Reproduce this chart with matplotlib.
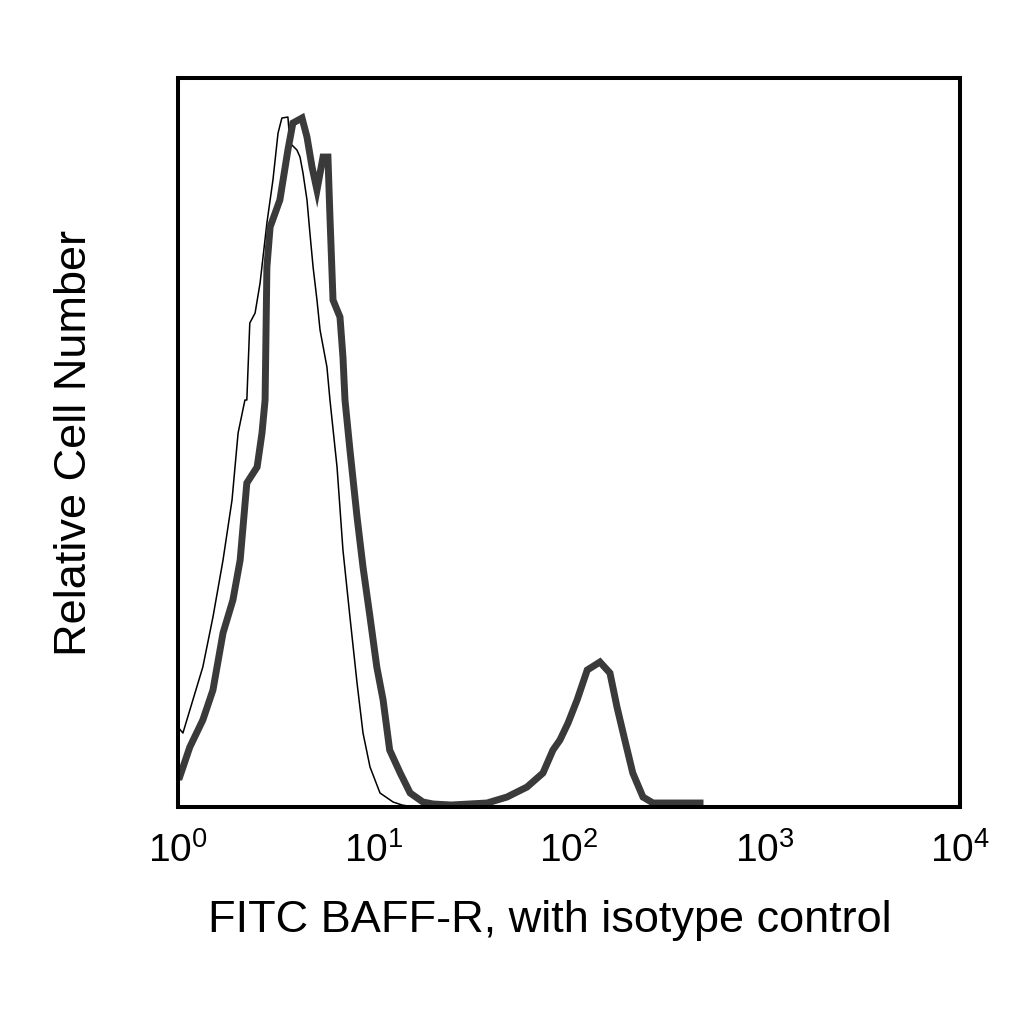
import matplotlib
matplotlib.use("Agg")
import matplotlib.pyplot as plt

plt.rcParams['font.family'] = ['Liberation Sans', 'DejaVu Sans']

# isotype control (thin line)
iso_x = [1.00, 1.06, 1.34, 1.51, 1.70, 1.89, 2.03, 2.20, 2.25, 2.33, 2.48, 2.63, 2.85,
         3.06, 3.25, 3.40, 3.65, 3.74, 4.06, 4.21, 4.36, 4.57, 4.73, 4.91, 5.14, 5.33,
         5.78, 5.99, 6.51, 6.98, 7.58, 8.24, 8.84, 9.60, 10.8, 12.6, 14.0, 16.0]
iso_y = [80, 74, 140, 190, 247, 307, 374, 407, 407, 484, 494, 524, 584,
         627, 674, 689, 690, 664, 657, 650, 634, 607, 574, 540, 507, 477,
         440, 407, 340, 257, 190, 124, 74, 40, 14, 5, 2, 0]

# FITC BAFF-R (thick line)
baff_x = [1.00, 1.02, 1.15, 1.34, 1.51, 1.70, 1.91, 2.08, 2.25, 2.54, 2.69, 2.79, 2.85,
          2.96, 3.32, 3.65, 3.87, 4.31, 4.57, 4.85, 5.14, 5.52, 5.85, 5.99, 6.21, 6.74,
          6.98, 7.15, 7.58, 8.24, 8.84, 9.60, 10.4, 11.2, 12.1, 13.7, 15.4, 17.9, 20.2,
          25.0, 38.1, 48.2, 61.0, 73.6, 82.8, 89.9, 98.9, 110, 124, 144, 162, 176,
          193, 212, 239, 269, 468]
baff_y = [30, 30, 60, 87, 117, 174, 207, 247, 324, 340, 374, 407, 540,
          580, 607, 657, 684, 689, 670, 640, 617, 650, 650, 590, 507, 490,
          450, 407, 357, 290, 240, 190, 140, 107, 57, 34, 14, 5, 3,
          2, 4, 10, 20, 34, 57, 67, 84, 107, 137, 145, 134, 100,
          67, 34, 10, 4, 4]

fig = plt.figure(figsize=(10.24, 10.24), dpi=100)
ax = fig.add_axes([0.1738, 0.2119, 0.7637, 0.7119])

ax.plot(iso_x, iso_y, color='black', lw=1.1)
ax.plot(baff_x, baff_y, color='#3a3a3a', lw=5, solid_joinstyle='miter')

ax.set_xscale('log')
ax.set_xlim(1, 1e4)
ax.set_ylim(0, 729)
ax.set_xticks([1, 10, 100, 1000, 10000])
ax.minorticks_off()
ax.set_yticks([])
ax.tick_params(axis='x', length=0, pad=18, labelsize=28)
for s in ax.spines.values():
    s.set_linewidth(2.9)

ax.set_xlabel('FITC BAFF-R, with isotype control', fontsize=32.5, labelpad=22)
ax.xaxis.label.set_x(0.476)
ax.set_ylabel('Relative Cell Number', fontsize=32.5, labelpad=60)

fig.savefig('out.png', dpi=100)
